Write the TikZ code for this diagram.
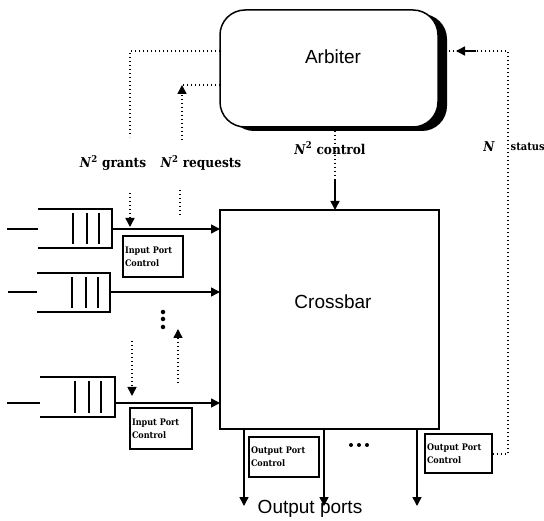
\documentclass[tikz,border=0pt]{standalone}
\usepackage{fontspec}
\setmainfont{DejaVu Serif}
\newfontfamily\sansf{Liberation Sans}
\newfontfamily\condf{DejaVu Serif Condensed}
\usetikzlibrary{arrows.meta,shadows}
\begin{document}
\begin{tikzpicture}[x=1pt,y=-1pt,
  dotl/.style={line width=1.5pt, dash pattern=on 1.4pt off 2.6pt},
  arr/.style={-{Triangle[length=9pt,width=9pt]}},
  sol/.style={line width=1.5pt},
  qline/.style={line width=1.5pt},
  pbox/.style={draw, line width=1.3pt, inner sep=0pt, align=left, font=\condf\bfseries\fontsize{9}{13}\selectfont},
  lbl/.style={font=\condf\bfseries\fontsize{13.5}{15}\selectfont, inner sep=0pt},
  big/.style={font=\sansf\fontsize{19}{22}\selectfont, inner sep=0pt},
  qnode/.style={minimum width=74pt, minimum height=39pt, inner sep=0pt, outer sep=0pt},
  dotc/.style={fill=black, circle, inner sep=0pt, minimum size=4.5pt}]
\useasboundingbox (0,0) rectangle (544,521);

% Arbiter
\node[draw, line width=1.5pt, rounded corners=25pt, minimum width=218pt, minimum height=117pt,
      fill=white, outer sep=0pt,
      drop shadow={shadow xshift=9pt, shadow yshift=-4pt, opacity=1, fill=black}]
      (arb) at (329,68.5) {};
\node[big] (arbt) at (333,57) {Arbiter};

% Crossbar
\node[draw, line width=1.5pt, minimum width=219pt, minimum height=219pt, inner sep=0pt, outer sep=0pt]
      (xb) at (329.5,319.5) {};
\node[big] (xbt) at (333,302) {Crossbar};

% Queues
\node[qnode] (q1) at (75,228.5) {};
\node[qnode, minimum width=73pt] (q2) at (73.5,292.5) {};
\node[qnode, minimum width=75pt, minimum height=40pt] (q3) at (77.5,397) {};
\foreach \q in {q1,q2,q3}{
  \draw[qline] (\q.north west) -- (\q.north east) -- (\q.south east) -- (\q.south west);
  \foreach \dx in {35,49,61}{
    \draw[qline] ([xshift=\dx pt, yshift=-4pt]\q.north west) -- ([xshift=\dx pt, yshift=4pt]\q.south west);
  }
}
% inputs
\coordinate (in1) at (7,229);
\coordinate (in2) at (8,292);
\coordinate (in3) at (7,403);
\draw[sol] (in1) -- (q1.west |- in1);
\draw[sol] (in2) -- (q2.west |- in2);
\draw[sol] (in3) -- (q3.west |- in3);
\draw[sol, arr] (q1.east |- in1) -- (xb.west |- in1);
\draw[sol, arr] (q2.east |- in2) -- (xb.west |- in2);
\draw[sol, arr] (q3.east |- in3) -- (xb.west |- in3);

% Input port controls
\node[pbox, minimum width=60pt, minimum height=41pt, text width=56pt] (ipc1) at (153,256.5) {Input Port\\Control};
\node[pbox, minimum width=62pt, minimum height=41pt, text width=58pt] (ipc2) at (161,428.5) {Input Port\\Control};

% Output port controls
\node[pbox, minimum width=70pt, minimum height=40pt, text width=66pt] (opc1) at (284,457) {Output Port\\Control};
\node[pbox, minimum width=67pt, minimum height=39pt, text width=63pt] (opc2) at (458.5,453.5) {Output Port\\Control};

% Outputs
\coordinate (o1) at (244,506);
\coordinate (o2) at (324,506);
\coordinate (o3) at (417,506);
\draw[sol, arr] (xb.south -| o1) -- (o1);
\draw[sol, arr] (xb.south -| o2) -- (o2);
\draw[sol, arr] (xb.south -| o3) -- (o3);
\node[big] (outt) at (310,509) {Output ports};
\node[dotc, minimum size=4pt] (hd1) at (351,445) {};
\node[dotc, minimum size=4pt] (hd2) at (359,445) {};
\node[dotc, minimum size=4pt] (hd3) at (367,445) {};

% vertical dots between queues
\node[dotc] (vd1) at (163,312) {};
\node[dotc] (vd2) at (163,319) {};
\node[dotc] (vd3) at (163,327) {};

% grants / requests (top)
\coordinate (g0) at (130,51);
\coordinate (g1) at (130,137);
\draw[dotl] (arb.west |- g0) -- (g0) -- (g1);
\coordinate (r0) at (182,85);
\coordinate (r1) at (182,140);
\draw[dotl] (arb.west |- r0) -- (r0);
\draw[dotl, arr] (r1) -- (r0);
\node[lbl] (lg) at (113,163) {\textit{N}\textsuperscript{2} grants};
\node[lbl] (lr) at (201,163) {\textit{N}\textsuperscript{2} requests};

% grants / requests (near first queue)
\coordinate (g2) at (130,193);
\coordinate (g3) at (130,227);
\draw[dotl, arr] (g2) -- (g3);
\coordinate (r2) at (180,190);
\coordinate (r3) at (180,216);
\draw[dotl] (r2) -- (r3);

% grants / requests (near last queue)
\coordinate (g4) at (132,341);
\coordinate (g5) at (132,396);
\draw[dotl, arr] (g4) -- (g5);
\coordinate (r4) at (178,383);
\coordinate (r5) at (178,329);
\draw[dotl, arr] (r4) -- (r5);

% control
\coordinate (c1) at (335,180);
\draw[dotl] (arb.south -| c1) -- (c1);
\draw[sol, arr] (c1) -- (xb.north -| c1);
\node[lbl] (lc) at (330,148) {\textit{N}\textsuperscript{2} control};

% status
\coordinate (s1) at (508,454);
\coordinate (s2) at (508,51);
\coordinate (s3) at (447,51);
\coordinate (a1) at (476,51);
\coordinate (a2) at (456,51);
\draw[dotl] (opc2.east |- s1) -- (s1) -- (s2) -- (s3);
\draw[sol, arr] (a1) -- (a2);
\node[lbl] (ln) at (489,147) {\textit{N}};
\node[lbl, anchor=west, font=\condf\bfseries\fontsize{11}{12}\selectfont] (ls) at (510.5,147) {status};
\end{tikzpicture}
\end{document}
